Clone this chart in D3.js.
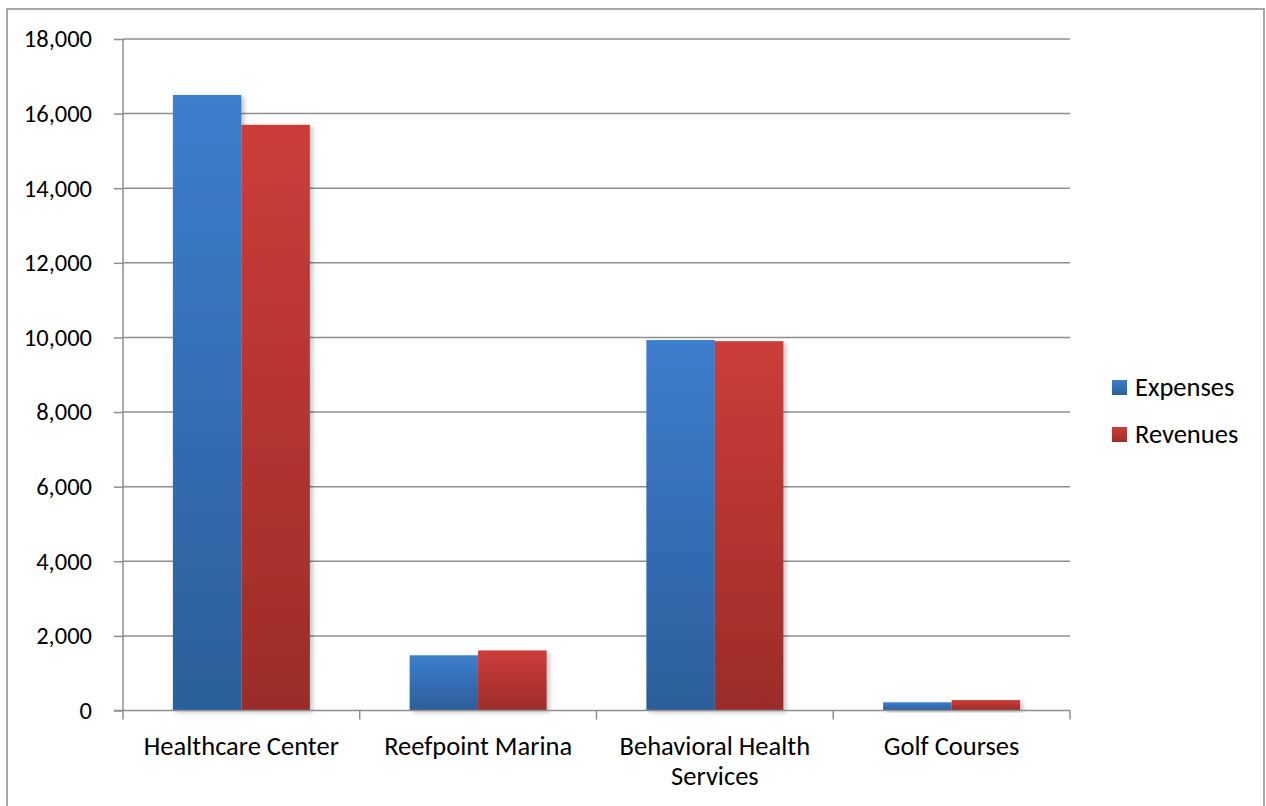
<!DOCTYPE html>
<html>
<head>
<meta charset="utf-8">
<script src="https://cdn.jsdelivr.net/npm/d3@7"></script>
<style>
  body { margin: 0; background: #fff; }
  text { font-family: Carlito, Calibri, Lato, sans-serif; fill: #000; }
</style>
</head>
<body>
<div id="chart"></div>
<script>
// data
var categories = ["Healthcare Center", "Reefpoint Marina", "Behavioral Health Services", "Golf Courses"];
var seriesNames = ["Expenses", "Revenues"];
var expenses = [16500, 1480, 9930, 220];
var revenues = [15700, 1610, 9900, 280];
var yTicks = [0, 2000, 4000, 6000, 8000, 10000, 12000, 14000, 16000, 18000];

var svgWidth = 1266;
var svgHeight = 806;

var plot = { left: 123, right: 1070, top: 39, bottom: 710.5 };

var svg = d3.select("#chart").append("svg")
  .attr("width", svgWidth)
  .attr("height", svgHeight);

var defs = svg.append("defs");

var colors = {
  Expenses: ["#3d7ecd", "#2c5e9b"],
  Revenues: ["#cc3d39", "#9b2c29"]
};

seriesNames.forEach(function(s) {
  var g = defs.append("linearGradient")
    .attr("id", "grad-" + s)
    .attr("x1", 0).attr("y1", 0).attr("x2", 0).attr("y2", 1);
  g.append("stop").attr("offset", "0%").attr("stop-color", colors[s][0]);
  g.append("stop").attr("offset", "100%").attr("stop-color", colors[s][1]);
});

var shadow = defs.append("filter").attr("id", "shadow")
  .attr("x", "-10%").attr("y", "-10%").attr("width", "130%").attr("height", "130%");
shadow.append("feDropShadow")
  .attr("dx", 3).attr("dy", 2)
  .attr("stdDeviation", 2)
  .attr("flood-color", "#000")
  .attr("flood-opacity", 0.22);

// outer border
svg.append("rect")
  .attr("x", 7).attr("y", 9)
  .attr("width", 1257).attr("height", 810)
  .attr("fill", "none")
  .attr("stroke", "#8c8c8c")
  .attr("stroke-width", 1.5);

var xScale = d3.scaleBand().domain(categories).range([plot.left, plot.right]);
var barGroupWidth = 137;
var xInner = d3.scaleBand().domain(seriesNames)
  .range([(xScale.bandwidth() - barGroupWidth) / 2, (xScale.bandwidth() + barGroupWidth) / 2]);
var yScale = d3.scaleLinear().domain([0, 18000]).range([plot.bottom, plot.top]);

// gridlines
svg.append("g").selectAll("line").data(yTicks.filter(d => d > 0)).enter()
  .append("line")
  .attr("x1", plot.left).attr("x2", plot.right)
  .attr("y1", d => yScale(d)).attr("y2", d => yScale(d))
  .attr("stroke", "#8e8e8e")
  .attr("stroke-width", 1.5);

// bars
var rows = categories.map(function(c, i) {
  return { cat: c, values: [{ s: "Expenses", v: expenses[i] }, { s: "Revenues", v: revenues[i] }] };
});

var catGroups = svg.append("g").selectAll("g").data(rows).enter()
  .append("g")
  .attr("transform", d => `translate(${xScale(d.cat)}, 0)`);

catGroups.selectAll("rect").data(d => d.values).enter()
  .append("rect")
  .attr("x", d => xInner(d.s))
  .attr("width", xInner.bandwidth())
  .attr("y", d => yScale(d.v))
  .attr("height", d => yScale(0) - yScale(d.v))
  .attr("fill", d => `url(#grad-${d.s})`)
  .attr("filter", "url(#shadow)");

// y axis
var leftAxis = d3.axisLeft(yScale)
  .tickValues(yTicks)
  .tickSize(9)
  .tickPadding(22)
  .tickFormat(d3.format(","));

var yAxisG = svg.append("g")
  .attr("transform", `translate(${plot.left}, 0)`)
  .call(leftAxis);
yAxisG.select(".domain").remove();
yAxisG.selectAll("line").attr("stroke", "#8e8e8e").attr("stroke-width", 1.5);
yAxisG.selectAll("text")
  .style("font-family", "Carlito, Calibri, Lato, sans-serif")
  .style("font-size", "24.5px")
  .attr("fill", "#000");

svg.append("line")
  .attr("x1", plot.left).attr("x2", plot.left)
  .attr("y1", plot.top).attr("y2", plot.bottom)
  .attr("stroke", "#8e8e8e").attr("stroke-width", 1.5);

// x axis
svg.append("line")
  .attr("x1", plot.left - 9).attr("x2", plot.right)
  .attr("y1", plot.bottom).attr("y2", plot.bottom)
  .attr("stroke", "#8e8e8e").attr("stroke-width", 1.5);

var boundaries = categories.map(c => xScale(c)).concat([plot.right]);
svg.append("g").selectAll("line").data(boundaries).enter()
  .append("line")
  .attr("x1", d => d).attr("x2", d => d)
  .attr("y1", plot.bottom).attr("y2", plot.bottom + 9)
  .attr("stroke", "#8e8e8e").attr("stroke-width", 1.5);

var labels = svg.append("g").selectAll("text").data(categories).enter()
  .append("text")
  .attr("x", d => xScale(d) + xScale.bandwidth() / 2)
  .attr("y", 755)
  .attr("text-anchor", "middle")
  .style("font-size", "26.5px");

// wrap long labels onto two lines
labels.each(function(d) {
  var el = d3.select(this);
  var lines = [d];
  if (d.length > 20) {
    var words = d.split(" ");
    lines = [words.slice(0, words.length - 1).join(" "), words[words.length - 1]];
  }
  lines.forEach(function(line, i) {
    el.append("tspan")
      .attr("x", xScale(d) + xScale.bandwidth() / 2)
      .attr("dy", i === 0 ? 0 : 30)
      .text(line);
  });
});

// legend
var legend = svg.append("g").selectAll("g").data(seriesNames).enter()
  .append("g")
  .attr("transform", (d, i) => `translate(1112, ${387 + i * 47})`);

legend.append("rect")
  .attr("x", 0).attr("y", -7)
  .attr("width", 15).attr("height", 15)
  .attr("fill", d => `url(#grad-${d})`);

legend.append("text")
  .attr("x", 23)
  .attr("y", 0)
  .attr("dy", "0.35em")
  .style("font-size", "26.5px")
  .text(d => d);
</script>
</body>
</html>
